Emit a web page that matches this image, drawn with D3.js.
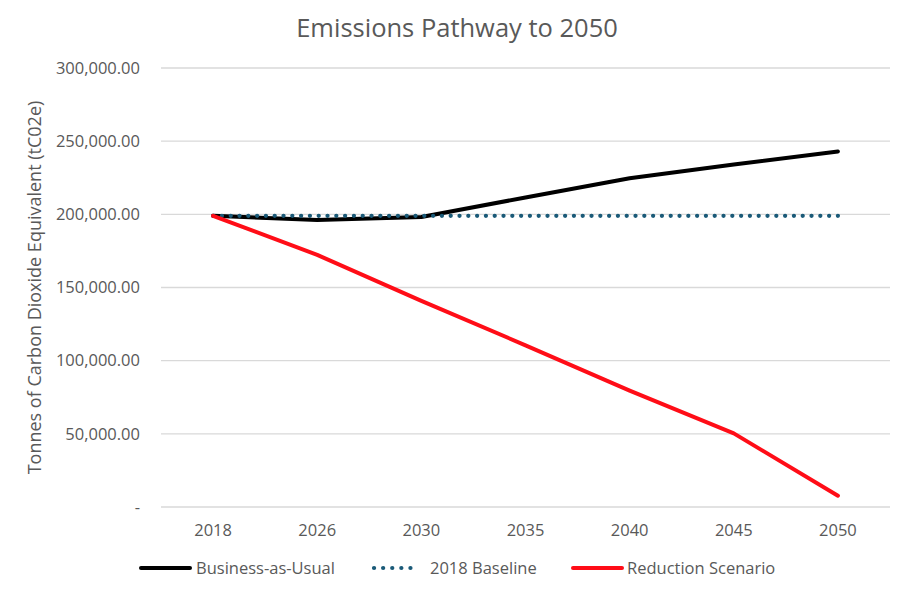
<html>
<head>
<script src="https://cdn.jsdelivr.net/npm/d3@7"></script>
<style>
  body { margin: 0; background: #fff; font-family: "Open Sans", sans-serif; }
</style>
</head>
<body>
<div id="chart"></div>
<script>
const years = ["2018", "2026", "2030", "2035", "2040", "2045", "2050"];
const businessAsUsual = [199000, 196200, 198200, 211500, 224600, 234000, 243000];
const baseline2018 = [199000, 199000, 199000, 199000, 199000, 199000, 199000];
const reductionScenario = [199000, 172300, 140900, 110500, 79500, 50300, 7700];
const yTicks = [0, 50000, 100000, 150000, 200000, 250000, 300000];

const W = 908, H = 590;
const margin = { top: 68, right: 18, bottom: 83, left: 161 };
const width = W - margin.left - margin.right;
const height = H - margin.top - margin.bottom;
const textColor = "#595959";

const svg = d3.select("#chart").append("svg")
  .attr("width", W).attr("height", H)
  .style("font-family", "'Open Sans', sans-serif");

svg.append("text")
  .attr("x", 457).attr("y", 37)
  .attr("text-anchor", "middle")
  .attr("fill", textColor)
  .style("font-size", "25.5px")
  .text("Emissions Pathway to 2050");

const g = svg.append("g").attr("transform", `translate(${margin.left},${margin.top})`);

const x = d3.scaleBand().domain(years).range([0, width]);
const y = d3.scaleLinear().domain([0, 300000]).range([height, 0]);

// gridlines
g.selectAll(".grid").data(yTicks).enter().append("line")
  .attr("x1", 0).attr("x2", width)
  .attr("y1", d => y(d)).attr("y2", d => y(d))
  .attr("stroke", "#d9d9d9").attr("stroke-width", 1.3);

// y axis labels
const fmt = d => d === 0 ? "-" : d3.format(",.2f")(d);
const yAxis = g.append("g").call(d3.axisLeft(y).tickValues(yTicks).tickFormat(fmt).tickSize(0).tickPadding(21));
yAxis.select(".domain").remove();
yAxis.selectAll("text").attr("fill", textColor).style("font-size", "16.5px").style("font-family", "'Open Sans', sans-serif");

// x axis labels
const xAxis = g.append("g").attr("transform", `translate(0,${height})`)
  .call(d3.axisBottom(x).tickSize(0).tickPadding(17));
xAxis.select(".domain").remove();
xAxis.selectAll("text").attr("fill", textColor).style("font-size", "16.5px").style("font-family", "'Open Sans', sans-serif");

// y title
svg.append("text")
  .attr("transform", `translate(41,${margin.top + height / 2}) rotate(-90)`)
  .attr("text-anchor", "middle")
  .attr("fill", textColor)
  .style("font-size", "18px")
  .text("Tonnes of Carbon Dioxide Equivalent (tC02e)");

const line = d3.line().x((d, i) => x(years[i]) + x.bandwidth() / 2).y(d => y(d));

const series = [
  { name: "Business-as-Usual", values: businessAsUsual, color: "#000000", dash: null, width: 4 },
  { name: "2018 Baseline", values: baseline2018, color: "#1a5a78", dash: "0.1 8.7", width: 4.2 },
  { name: "Reduction Scenario", values: reductionScenario, color: "#ff0d17", dash: null, width: 4 }
];

g.selectAll(".series").data(series).enter().append("path")
  .attr("d", d => line(d.values))
  .attr("fill", "none")
  .attr("stroke", d => d.color)
  .attr("stroke-width", d => d.width)
  .attr("stroke-linecap", "round")
  .attr("stroke-linejoin", "round")
  .attr("stroke-dasharray", d => d.dash);

// legend
const legendX = [139, 372, 571];
const legendTextX = [57, 58, 56];
const legend = svg.selectAll(".legend").data(series).enter().append("g")
  .attr("transform", (d, i) => `translate(${legendX[i]},568)`);
legend.append("line")
  .attr("x1", 2).attr("x2", (d, i) => i === 1 ? 47 : 51).attr("y1", 0).attr("y2", 0)
  .attr("stroke", d => d.color)
  .attr("stroke-width", d => d.width)
  .attr("stroke-linecap", "round")
  .attr("stroke-dasharray", d => d.dash ? "0.1 9" : null);
legend.append("text")
  .attr("x", (d, i) => legendTextX[i]).attr("y", 5.5)
  .attr("fill", textColor)
  .style("font-size", "16.5px")
  .text(d => d.name);
</script>
</body>
</html>
